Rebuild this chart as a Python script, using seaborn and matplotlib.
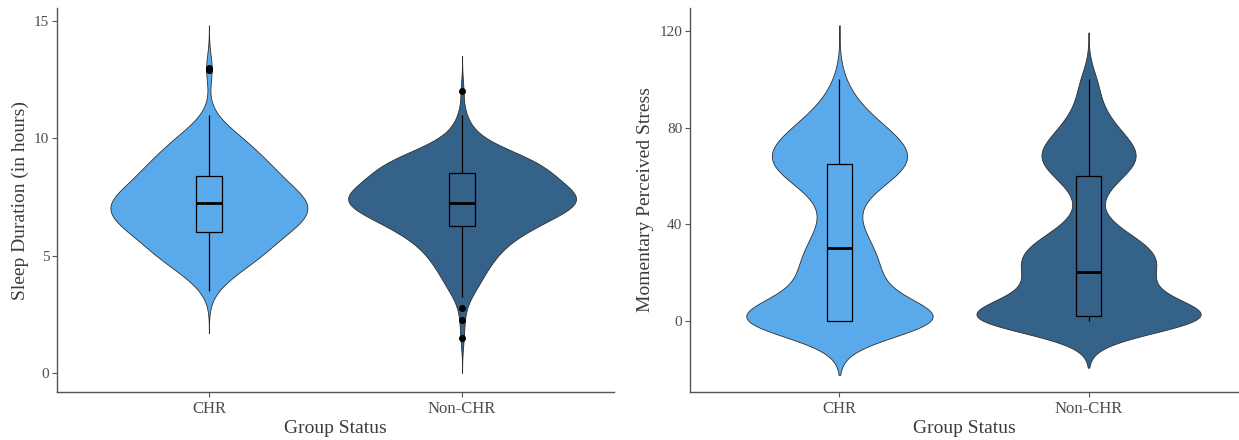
import numpy as np
import pandas as pd
import matplotlib
matplotlib.use("Agg")
import matplotlib.pyplot as plt
import seaborn as sns

# ---------------------------------------------------------------------------
# Data
# ---------------------------------------------------------------------------
groups = ["CHR", "Non-CHR"]
group_colors = ["#5AAAEB", "#356289"]

# Nightly sleep duration (hours, recorded in 15-minute steps) and number of nights
sleep_chr_hours = [3.50, 3.75, 4.00, 4.25, 4.50, 4.75, 5.00, 5.25, 5.50, 5.75,
                   6.00, 6.25, 6.50, 6.75, 7.00, 7.25, 7.50, 7.75, 8.00, 8.25,
                   8.50, 8.75, 9.00, 9.25, 9.50, 9.75, 10.00, 10.25, 10.50,
                   10.75, 11.00, 12.90, 13.00]
sleep_chr_nights = [1, 1, 3, 3, 4, 6, 7, 8, 7, 8,
                    10, 11, 12, 13, 11, 15, 12, 10, 9, 10,
                    8, 8, 7, 7, 5, 5, 5, 3, 2,
                    1, 1, 1, 1]

sleep_nonchr_hours = [1.50, 2.25, 2.75, 3.25, 3.50, 3.75, 4.00, 4.25, 4.50, 4.75,
                      5.00, 5.25, 5.50, 5.75, 6.00, 6.25, 6.50, 6.75, 7.00, 7.25,
                      7.50, 7.75, 8.00, 8.25, 8.50, 8.75, 9.00, 9.25, 9.50, 9.75,
                      10.00, 10.25, 10.50, 10.75, 11.00, 12.00]
sleep_nonchr_nights = [1, 1, 1, 2, 2, 3, 3, 4, 4, 5,
                       6, 6, 7, 9, 10, 12, 14, 16, 18, 21,
                       21, 18, 16, 15, 15, 14, 13, 11, 7, 4,
                       3, 2, 1, 1, 1, 1]

# Momentary perceived stress ratings (0-100 slider) and number of prompts
stress_chr_rating = [0, 5, 10, 15, 20, 25, 30, 35, 40, 45, 50,
                     55, 60, 65, 70, 75, 80, 85, 90, 95, 100]
stress_chr_prompts = [123, 18, 20, 19, 18, 18, 17, 11, 9, 6, 8,
                      15, 28, 35, 34, 29, 20, 14, 8, 4, 3]

stress_nonchr_rating = [0, 2, 5, 10, 15, 20, 25, 30, 35, 40, 45,
                        50, 55, 60, 65, 70, 75, 80, 85, 90, 95, 100]
stress_nonchr_prompts = [85, 30, 28, 26, 25, 27, 33, 30, 19, 8, 4,
                         4, 8, 14, 24, 24, 17, 12, 8, 5, 4, 6]

# Kernel bandwidths (in data units) for the violin densities of each group
SLEEP_BW = {"CHR": 0.60, "Non-CHR": 0.50}
STRESS_BW = {"CHR": 7.5, "Non-CHR": 6.5}


def long_table(column, chr_values, chr_counts, non_values, non_counts):
    parts = []
    for name, vals, cnts in [("CHR", chr_values, chr_counts),
                             ("Non-CHR", non_values, non_counts)]:
        parts.append(pd.DataFrame({"Group Status": name,
                                   column: np.repeat(vals, cnts)}))
    return pd.concat(parts, ignore_index=True)


sleep = long_table("Sleep", sleep_chr_hours, sleep_chr_nights,
                   sleep_nonchr_hours, sleep_nonchr_nights)
stress = long_table("Stress", stress_chr_rating, stress_chr_prompts,
                    stress_nonchr_rating, stress_nonchr_prompts)


def bandwidth_by_group(frame, column, bw_by_group):
    """gaussian_kde factor giving each group its own absolute kernel width.

    The KDE only sees the raw sample, so the group is recognised by its size.
    """
    sizes = frame.groupby("Group Status")[column].size()
    lookup = {int(sizes[g]): bw for g, bw in bw_by_group.items()}
    fallback = float(np.mean(list(bw_by_group.values())))

    def rule(kde):
        return lookup.get(kde.n, fallback) / kde.dataset.std(ddof=1)
    return rule


# ---------------------------------------------------------------------------
# Style
# ---------------------------------------------------------------------------
sns.set_style("ticks")
plt.rcParams["font.family"] = ["Liberation Serif", "DejaVu Serif"]

AXIS_GRAY = "#555555"
TICK_TEXT = "#4d4d4d"
TITLE_TEXT = "#3c3c3c"
palette = dict(zip(groups, group_colors))

fig = plt.figure(figsize=(12.39, 4.40), dpi=100)
ax_sleep = fig.add_axes([57 / 1239, 48 / 440, 557 / 1239, 384 / 440])
ax_stress = fig.add_axes([690 / 1239, 48 / 440, 548 / 1239, 384 / 440])


def draw_panel(ax, data, column, bw_by_group, ylabel, ylim, yticks):
    sns.violinplot(data=data, x="Group Status", y=column, hue="Group Status",
                   order=groups, hue_order=groups, palette=palette,
                   saturation=1, inner=None, cut=3, gridsize=600,
                   bw_method=bandwidth_by_group(data, column, bw_by_group),
                   density_norm="area", common_norm=True, width=0.9,
                   linewidth=0.6, linecolor="#2e2e2e", legend=False, ax=ax)
    sns.boxplot(data=data, x="Group Status", y=column, hue="Group Status",
                order=groups, hue_order=groups, palette=palette,
                saturation=1, width=0.1, linewidth=0.9, linecolor="black",
                showcaps=False, fliersize=4,
                flierprops=dict(marker="o", markerfacecolor="black",
                                markeredgecolor="black"),
                medianprops=dict(color="black", linewidth=2.0),
                legend=False, ax=ax)

    ax.set_xlim(-0.6, 1.6)
    ax.set_ylim(*ylim)
    ax.set_yticks(yticks)
    ax.set_yticklabels([str(t) for t in yticks])

    ax.set_xlabel("Group Status", fontsize=14, color=TITLE_TEXT, labelpad=2)
    ax.set_ylabel(ylabel, fontsize=14, color=TITLE_TEXT, labelpad=4)

    ax.tick_params(axis="both", length=3.5, width=0.8, color=AXIS_GRAY,
                   labelcolor=TICK_TEXT, pad=2)
    ax.tick_params(axis="x", labelsize=12, pad=3)
    ax.tick_params(axis="y", labelsize=11)

    sns.despine(ax=ax)
    for side in ("left", "bottom"):
        ax.spines[side].set_color(AXIS_GRAY)
        ax.spines[side].set_linewidth(1.0)


draw_panel(ax_sleep, sleep, "Sleep", SLEEP_BW, "Sleep Duration (in hours)",
           (-0.81, 15.54), [0, 5, 10, 15])
draw_panel(ax_stress, stress, "Stress", STRESS_BW, "Momentary Perceived Stress",
           (-29.6, 129.6), [0, 40, 80, 120])

fig.savefig("out.png", dpi=100)
